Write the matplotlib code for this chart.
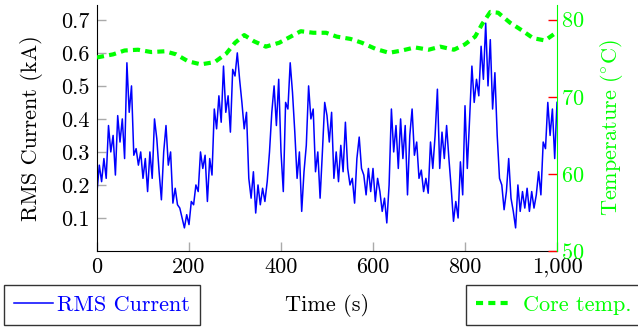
import numpy as np
import matplotlib
matplotlib.use("Agg")
import matplotlib.pyplot as plt
from matplotlib.ticker import FuncFormatter

plt.rcParams['font.family'] = 'cmr10'
plt.rcParams['mathtext.fontset'] = 'cm'
plt.rcParams['axes.formatter.use_mathtext'] = True
plt.rcParams['font.size'] = 16

BLUE = (0, 0, 1)
GREEN = (0, 1, 0)

time_s = list(range(0, 1001, 5))
rms_current = [
    0.18, 0.26, 0.21, 0.28, 0.22, 0.38, 0.30, 0.35, 0.23, 0.41,
    0.33, 0.40, 0.28, 0.57, 0.42, 0.50, 0.29, 0.31, 0.26, 0.30,
    0.22, 0.28, 0.18, 0.30, 0.22, 0.40, 0.34, 0.24, 0.155, 0.30,
    0.38, 0.26, 0.30, 0.145, 0.19, 0.14, 0.13, 0.10, 0.07, 0.11,
    0.08, 0.15, 0.14, 0.20, 0.18, 0.30, 0.25, 0.29, 0.15, 0.28,
    0.23, 0.43, 0.37, 0.47, 0.39, 0.56, 0.42, 0.47, 0.36, 0.55,
    0.53, 0.60, 0.52, 0.45, 0.37, 0.42, 0.22, 0.16, 0.24, 0.115,
    0.20, 0.14, 0.19, 0.15, 0.21, 0.30, 0.42, 0.50, 0.38, 0.52,
    0.30, 0.18, 0.45, 0.43, 0.57, 0.48, 0.36, 0.22, 0.30, 0.12,
    0.24, 0.32, 0.50, 0.40, 0.43, 0.24, 0.30, 0.16, 0.30, 0.45,
    0.41, 0.33, 0.42, 0.22, 0.30, 0.21, 0.32, 0.24, 0.39, 0.25,
    0.20, 0.22, 0.145, 0.28, 0.345, 0.25, 0.23, 0.17, 0.25, 0.18,
    0.25, 0.15, 0.22, 0.18, 0.12, 0.16, 0.085, 0.20, 0.43, 0.30,
    0.38, 0.25, 0.40, 0.28, 0.38, 0.17, 0.35, 0.43, 0.29, 0.33,
    0.22, 0.245, 0.18, 0.22, 0.175, 0.33, 0.25, 0.35, 0.49, 0.25,
    0.36, 0.28, 0.38, 0.28, 0.19, 0.09, 0.15, 0.10, 0.27, 0.17,
    0.44, 0.25, 0.40, 0.56, 0.45, 0.52, 0.47, 0.62, 0.52, 0.69,
    0.50, 0.64, 0.43, 0.54, 0.35, 0.22, 0.20, 0.125, 0.18, 0.28,
    0.16, 0.12, 0.07, 0.20, 0.12, 0.18, 0.13, 0.19, 0.12, 0.18,
    0.13, 0.17, 0.24, 0.17, 0.33, 0.31, 0.45, 0.35, 0.43, 0.28,
    0.45,
]

# core temperature (deg C)
temp_time = [0, 35, 60, 89, 118, 148, 172, 198, 226, 256, 281, 300, 320,
             341, 367, 396, 421, 443, 470, 498, 521, 551, 576, 606, 635,
             663, 691, 721, 746, 776, 800, 822, 837, 855, 872, 898, 924,
             948, 974, 1000]
core_temp = [75.1, 75.5, 76.0, 76.1, 75.8, 75.9, 75.5, 74.6, 74.2, 74.5,
             75.6, 77.0, 78.0, 77.2, 76.5, 77.0, 77.8, 78.5, 78.3, 78.3,
             77.8, 77.5, 77.0, 76.2, 75.7, 76.0, 76.4, 76.1, 76.5, 76.1,
             76.8, 77.8, 79.4, 81.0, 80.9, 79.6, 78.6, 77.6, 77.3, 78.4]

x_ticks = [0, 200, 400, 600, 800, 1000]
left_ticks = [0.1, 0.2, 0.3, 0.4, 0.5, 0.6, 0.7]
right_ticks = [50, 60, 70, 80]

fig = plt.figure(figsize=(6.38, 3.27), dpi=100)
ax = fig.add_axes([97 / 638, 1 - 251 / 327, 460 / 638, 246 / 327])
ax2 = ax.twinx()

l1, = ax.plot(time_s, rms_current, color=BLUE, lw=1.1, label='RMS Current')
l2, = ax2.plot(temp_time, core_temp, color=GREEN, lw=3.0, dashes=(1.7, 1.25),
               label='Core temp.')

ax.set_xlim(0, 1000)
ax.set_ylim(0, 0.745)
ax2.set_ylim(50, 81.9)

ax.set_xticks(x_ticks)
ax.xaxis.set_major_formatter(FuncFormatter(lambda v, p: f"{int(v):,}"))
ax.set_yticks(left_ticks)
ax.yaxis.set_major_formatter(FuncFormatter(lambda v, p: f"{v:.1f}"))
ax2.set_yticks(right_ticks)

ax.tick_params(axis='both', direction='in', color='#aaaaaa', length=6.5, width=1,
               labelcolor='black', pad=5)
ax2.tick_params(axis='y', direction='in', color='red', length=6.5, width=1,
                labelcolor=GREEN, pad=3)

for s in ['top', 'right']:
    ax.spines[s].set_visible(False)
for s in ['top', 'left', 'bottom']:
    ax2.spines[s].set_visible(False)
ax2.spines['right'].set_color(GREEN)

ax.set_xlabel('Time (s)', labelpad=12)
ax.set_ylabel('RMS Current (kA)')
ax.yaxis.set_label_coords(-0.117, 0.5)
ax2.set_ylabel(r'Temperature ($^{\circ}\mathrm{C}$)', color=GREEN, labelpad=10)

leg1 = fig.legend(handles=[l1], loc='lower left', bbox_to_anchor=(4 / 638, 2 / 327),
                  frameon=True, fancybox=False, edgecolor='black', handlelength=1.75,
                  borderpad=0.45, handletextpad=0.2, borderaxespad=0)
leg1.get_frame().set_linewidth(1.0)
leg1.get_texts()[0].set_color(BLUE)

leg2 = fig.legend(handles=[l2], loc='lower left', bbox_to_anchor=(466 / 638, 2 / 327),
                  frameon=True, fancybox=False, edgecolor='black', handlelength=1.6,
                  borderpad=0.45, handletextpad=0.5, borderaxespad=0)
leg2.get_frame().set_linewidth(1.0)
leg2.get_texts()[0].set_color(GREEN)

fig.savefig('out.png', dpi=100)
